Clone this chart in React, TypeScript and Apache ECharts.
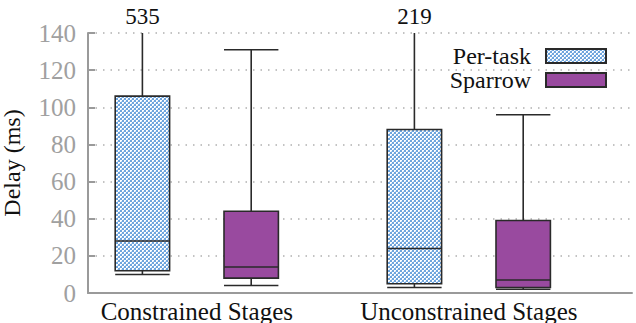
import React, { useEffect, useRef } from "react";
import * as echarts from "echarts";

// Box-and-whisker statistics per stage group: [lower whisker, Q1, median, Q3, upper whisker]
const groupLabels = ["Constrained Stages", "Unconstrained Stages"];
const groupCenters = [1.5, 4];
const perTaskX = [1, 3.5];
const sparrowX = [2, 4.5];
const perTaskStats = [
  [10, 12, 28, 106, 535],
  [3, 5, 24, 88, 219],
];
const sparrowStats = [
  [4, 8, 14, 44, 131],
  [2, 3, 7, 39, 96],
];
const yTicks = [0, 20, 40, 60, 80, 100, 120, 140];

const Y_MIN = yTicks[0];
const Y_MAX = yTicks[yTicks.length - 1];
const X_MIN = 0.5;
const BOX_WIDTH = 0.5;
const SERIF = "Liberation Serif";
const SERIF_STACK = "'Liberation Serif', 'Times New Roman', serif";

function makeCheckerPattern(): HTMLCanvasElement {
  const c = document.createElement("canvas");
  c.width = 4;
  c.height = 4;
  const ctx = c.getContext("2d")!;
  ctx.fillStyle = "#6fa5dd";
  ctx.fillRect(0, 0, 4, 4);
  ctx.fillStyle = "#ffffff";
  ctx.fillRect(0, 0, 2, 2);
  ctx.fillRect(2, 2, 2, 2);
  ctx.fillStyle = "#c4dbf3";
  ctx.fillRect(1, 1, 1, 1);
  ctx.fillRect(3, 3, 1, 1);
  return c;
}

function buildData(xs: number[], stats: number[][]) {
  return xs.map((x, i) => [x, ...stats[i]]);
}

function boxRenderer(fill: any) {
  return (params: any, api: any) => {
    const x = api.value(0);
    const lw = api.value(1);
    const q1 = api.value(2);
    const med = api.value(3);
    const q3 = api.value(4);
    const uw = api.value(5);
    const clipped = uw > Y_MAX;
    const topVal = Math.min(uw, Y_MAX);
    const half = (api.size([BOX_WIDTH, 0])[0] as number) / 2;
    const [cx, yLw] = api.coord([x, lw]);
    const yQ1 = api.coord([x, q1])[1];
    const yMed = api.coord([x, med])[1];
    const yQ3 = api.coord([x, q3])[1];
    const yTop = api.coord([x, topVal])[1];
    const line = { stroke: "#2a2a2a", lineWidth: 1.6 };
    const children: any[] = [
      { type: "line", shape: { x1: cx, y1: yTop, x2: cx, y2: yQ3 }, style: line },
      { type: "line", shape: { x1: cx, y1: yQ1, x2: cx, y2: yLw }, style: line },
      { type: "line", shape: { x1: cx - half, y1: yLw, x2: cx + half, y2: yLw }, style: line },
      {
        type: "rect",
        shape: { x: cx - half, y: yQ3, width: half * 2, height: yQ1 - yQ3 },
        style: { fill, stroke: "#2a2a2a", lineWidth: 1.6 },
      },
      { type: "line", shape: { x1: cx - half, y1: yMed, x2: cx + half, y2: yMed }, style: line },
    ];
    if (clipped) {
      // whisker runs off the scale: print its true value above the plot
      children.push({
        type: "text",
        x: cx,
        y: yTop - 5,
        style: {
          text: String(uw),
          fill: "#111",
          fontFamily: SERIF,
          fontSize: 23,
          align: "center",
          verticalAlign: "bottom",
        },
      });
    } else {
      children.push({ type: "line", shape: { x1: cx - half, y1: yTop, x2: cx + half, y2: yTop }, style: line });
    }
    return { type: "group", children };
  };
}

export default function App() {
  const ref = useRef<HTMLDivElement>(null);

  useEffect(() => {
    const el = ref.current;
    if (!el) return;
    const chart = echarts.init(el, undefined, { renderer: "svg" });
    const checker = { image: makeCheckerPattern(), repeat: "repeat" };
    const purple = "#994a9f";

    chart.setOption({
      animation: false,
      backgroundColor: "#ffffff",
      grid: { left: 88, right: 4, top: 33, bottom: 30, outerBoundsMode: "none", containLabel: false },
      legend: {
        orient: "vertical",
        right: 29,
        top: 44,
        padding: 0,
        align: "right",
        itemWidth: 60,
        itemHeight: 14,
        itemGap: 0,
        icon: "rect",
        textStyle: { fontFamily: SERIF, fontSize: 24, lineHeight: 20, color: "#111", padding: [0, 10, 0, 0] },
        data: ["Per-task", "Sparrow"],
      },
      xAxis: {
        type: "value",
        min: X_MIN,
        max: 5.5,
        interval: 0.5,
        axisLine: { lineStyle: { color: "#9a9a9a", width: 2 } },
        axisTick: { show: false },
        splitLine: { show: false },
        axisLabel: {
          margin: 6,
          fontFamily: SERIF,
          fontSize: 25,
          color: "#111",
          showMinLabel: true,
          showMaxLabel: true,
          formatter: (v: number) => {
            const i = groupCenters.indexOf(v);
            return i >= 0 ? groupLabels[i] : "";
          },
        },
      },
      yAxis: {
        type: "value",
        min: Y_MIN,
        max: Y_MAX,
        interval: yTicks[1] - yTicks[0],
        name: "Delay (ms)",
        nameLocation: "middle",
        nameGap: 64,
        nameTextStyle: { fontFamily: SERIF, fontSize: 24, color: "#111" },
        axisLine: { show: true, lineStyle: { color: "#9a9a9a", width: 2 } },
        axisTick: { show: true, inside: true, length: 7, lineStyle: { color: "#9a9a9a", width: 2 } },
        splitLine: { show: true, lineStyle: { color: "#b0b0b0", width: 1.5, type: [1.5, 6] } },
        axisLabel: { fontFamily: SERIF, fontSize: 25, color: "#a0a0a0", margin: 12 },
      },
      series: [
        {
          name: "Per-task",
          type: "custom",
          renderItem: boxRenderer(checker),
          encode: { x: 0, y: [1, 2, 3, 4, 5] },
          itemStyle: { color: checker, borderColor: "#2a2a2a", borderWidth: 1.6 },
          data: buildData(perTaskX, perTaskStats),
          z: 3,
        },
        {
          name: "Sparrow",
          type: "custom",
          renderItem: boxRenderer(purple),
          encode: { x: 0, y: [1, 2, 3, 4, 5] },
          itemStyle: { color: purple, borderColor: "#2a2a2a", borderWidth: 1.6 },
          data: buildData(sparrowX, sparrowStats),
          z: 3,
        },
      ],
    });

    // make sure every SVG text element uses the serif face
    const applySerif = () => {
      el.querySelectorAll("text").forEach((t) => {
        (t as SVGTextElement).style.fontFamily = SERIF_STACK;
      });
    };
    applySerif();
    chart.on("finished", applySerif);
    const raf = requestAnimationFrame(applySerif);
    const timer = setTimeout(applySerif, 0);

    return () => {
      cancelAnimationFrame(raf);
      clearTimeout(timer);
      chart.dispose();
    };
  }, []);

  return (
    <div
      ref={ref}
      style={{ position: "fixed", left: 0, top: 0, width: 636, height: 323 }}
    />
  );
}
